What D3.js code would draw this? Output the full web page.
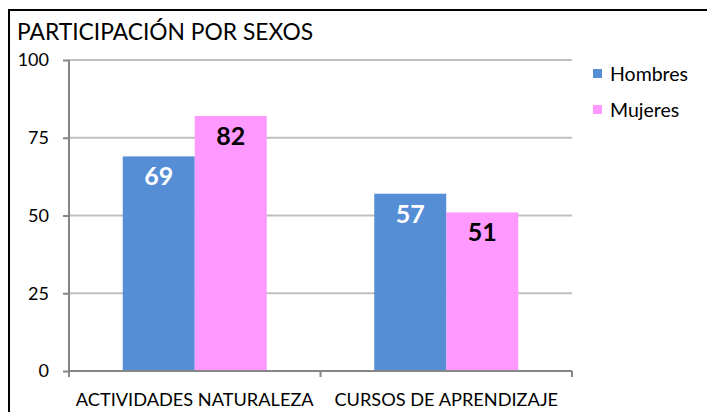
<!DOCTYPE html>
<html><head><meta charset="utf-8">
<script src="https://cdn.jsdelivr.net/npm/d3@7/dist/d3.min.js"></script>
<style>body{margin:0;background:#fff}svg{display:block}text{font-family:Lato,"Noto Sans",sans-serif}</style>
</head><body>
<svg id="c" width="707" height="412"></svg>
<script>
const categories = ["ACTIVIDADES NATURALEZA", "CURSOS DE APRENDIZAJE"];
const seriesNames = ["Hombres", "Mujeres"];
const hombres = [69, 57];
const mujeres = [82, 51];
const yTicks = [0, 25, 50, 75, 100];
const title = "PARTICIPACIÓN POR SEXOS";

const colors = {Hombres: "#558ED5", Mujeres: "#FF99FF"};
const labelColors = {Hombres: "#FFFFFF", Mujeres: "#000000"};
const seriesValues = {Hombres: hombres, Mujeres: mujeres};
const FONT = "Lato,'Noto Sans',sans-serif";

const svg = d3.select("#c");
svg.append("rect").attr("x", 9).attr("y", 10).attr("width", 720).attr("height", 420)
  .attr("fill", "#fff").attr("stroke", "#000").attr("stroke-width", 2);

svg.append("text").attr("x", 17).attr("y", 40).attr("font-size", 22.8).attr("fill", "#000")
  .text(title);

const x0 = d3.scaleBand().domain(categories).range([69, 572]).paddingInner(0).paddingOuter(0);
const x1 = d3.scaleBand().domain(seriesNames).range([0, 144]);
const y = d3.scaleLinear().domain([0, 100]).range([371, 60]);

// gridlines
svg.append("g").selectAll("line").data(yTicks.filter(d => d > 0)).join("line")
  .attr("x1", 69).attr("x2", 572).attr("y1", d => y(d)).attr("y2", d => y(d))
  .attr("stroke", "#BFBFBF").attr("stroke-width", 2);

// bars
const groups = svg.append("g").selectAll("g").data(categories).join("g")
  .attr("transform", c => `translate(${x0(c) + (x0.bandwidth() - 144) / 2},0)`);
groups.selectAll("rect").data((c, i) => seriesNames.map(s => ({s, v: seriesValues[s][i]}))).join("rect")
  .attr("x", d => x1(d.s)).attr("width", x1.bandwidth())
  .attr("y", d => y(d.v)).attr("height", d => y(0) - y(d.v))
  .attr("fill", d => colors[d.s]);
groups.selectAll("text").data((c, i) => seriesNames.map(s => ({s, v: seriesValues[s][i]}))).join("text")
  .attr("x", d => x1(d.s) + x1.bandwidth() / 2).attr("y", d => y(d.v) + 29)
  .attr("text-anchor", "middle").attr("font-size", 25).attr("font-weight", "bold")
  .attr("fill", d => labelColors[d.s]).text(d => d.v);

// y axis
const ya = svg.append("g").attr("transform", "translate(69,0)")
  .call(d3.axisLeft(y).tickValues(yTicks).tickSize(6).tickPadding(14));
ya.select(".domain").attr("stroke", "#868686").attr("stroke-width", 2).attr("d", `M0,${y(100)}V${y(0)}`);
ya.selectAll(".tick line").attr("stroke", "#868686").attr("stroke-width", 2);
ya.selectAll(".tick text").attr("font-size", 18).attr("fill", "#000").attr("font-family", FONT);

// x axis
const xa = svg.append("g").attr("transform", `translate(0,${y(0)})`)
  .call(d3.axisBottom(x0).tickSize(0).tickPadding(22));
xa.select(".domain").attr("stroke", "#868686").attr("stroke-width", 2).attr("d", `M69,0H572`);
xa.selectAll(".tick text").attr("font-size", 18.2).attr("fill", "#000").attr("font-family", FONT);
const xTickPos = [69, 69 + x0.step(), 572];
xa.selectAll(".sep").data(xTickPos).join("line").attr("class", "sep")
  .attr("x1", d => d).attr("x2", d => d).attr("y1", 0).attr("y2", 6)
  .attr("stroke", "#868686").attr("stroke-width", 2);

// legend
const lg = svg.append("g").selectAll("g").data(seriesNames).join("g")
  .attr("transform", (d, i) => `translate(593,${74 + i * 36})`);
lg.append("rect").attr("x", 0).attr("y", -5).attr("width", 9).attr("height", 9).attr("fill", d => colors[d]);
lg.append("text").attr("x", 17).attr("y", 7).attr("font-size", 19.5).attr("fill", "#000").text(d => d);
</script>
</body></html>
